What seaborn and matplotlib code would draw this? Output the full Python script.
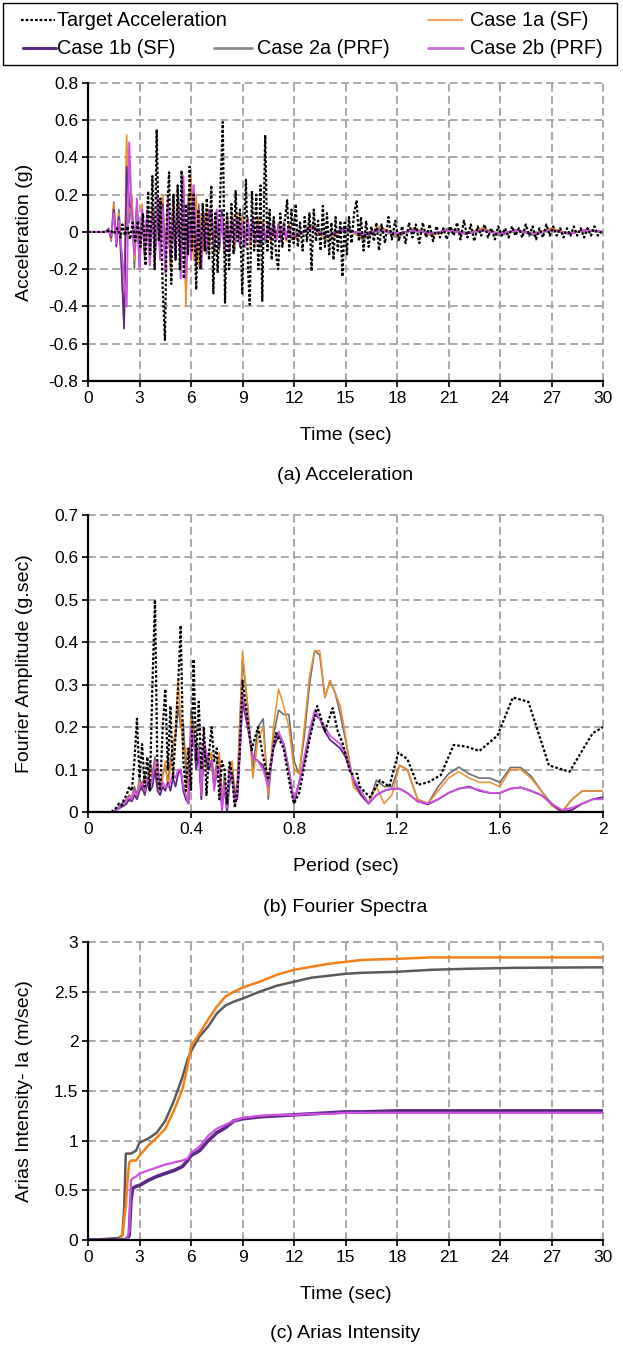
import numpy as np
import pandas as pd
import matplotlib
matplotlib.use("Agg")
import matplotlib.pyplot as plt
import seaborn as sns
from matplotlib.lines import Line2D
from matplotlib.patches import Rectangle
from matplotlib.ticker import FuncFormatter, MultipleLocator

# ---------------- DATA ----------------
series_names = ["Target Acceleration", "Case 1a (SF)", "Case 1b (SF)", "Case 2a (PRF)", "Case 2b (PRF)"]

# (a) Acceleration - target record (time s, acc g)
target_points = [
    (0, 0), (0.5, 0), (1.0, 0), (1.3, 0.01), (1.5, -0.01), (1.7, 0.02), (1.9, -0.03), (2.0, 0.04),
    (2.15, -0.02), (2.3, 0.03), (2.45, -0.04), (2.6, 0.05), (2.75, -0.05), (2.9, 0.06), (3.05, -0.08),
    (3.2, 0.1), (3.35, -0.18), (3.5, 0.22), (3.62, -0.12), (3.75, 0.3), (3.88, -0.2), (4.0, 0.55),
    (4.12, -0.05), (4.22, 0.18), (4.35, -0.3), (4.48, -0.58), (4.6, 0.1), (4.72, 0.32), (4.85, -0.28),
    (4.98, 0.2), (5.1, -0.15), (5.22, 0.25), (5.35, -0.2), (5.45, 0.33), (5.58, -0.25), (5.7, 0.15),
    (5.82, -0.12), (5.92, 0.35), (6.05, -0.1), (6.15, 0.2), (6.3, -0.31), (6.42, 0.12), (6.55, -0.2),
    (6.68, 0.15), (6.8, -0.1), (6.92, 0.18), (7.05, -0.15), (7.18, 0.25), (7.3, -0.33), (7.42, 0.1),
    (7.55, -0.22), (7.7, 0.2), (7.85, 0.59), (7.98, -0.38), (8.1, 0.1), (8.22, -0.2), (8.35, 0.15),
    (8.48, -0.12), (8.6, 0.22), (8.72, -0.05), (8.85, 0.12), (8.98, -0.33), (9.1, 0.05), (9.2, 0.28),
    (9.32, -0.2), (9.42, -0.39), (9.55, 0.22), (9.68, -0.1), (9.8, 0.2), (9.92, -0.2), (10.05, 0.25),
    (10.15, -0.37), (10.32, 0.52), (10.45, -0.1), (10.58, 0.12), (10.7, -0.15), (10.82, 0.08),
    (10.95, -0.12), (11.08, -0.2), (11.2, 0.1), (11.32, -0.08), (11.45, 0.05), (11.6, 0.17),
    (11.72, -0.1), (11.85, 0.12), (11.98, -0.06), (12.1, 0.15), (12.22, -0.08), (12.35, 0.05),
    (12.5, -0.1), (12.62, 0.08), (12.75, -0.05), (12.9, 0.1), (13.02, -0.21), (13.15, 0.12),
    (13.28, -0.05), (13.4, 0.06), (13.55, -0.1), (13.68, 0.14), (13.8, -0.08), (13.92, 0.1),
    (14.05, -0.12), (14.18, 0.05), (14.3, -0.15), (14.42, 0.08), (14.55, -0.1), (14.7, 0.06),
    (14.82, -0.24), (14.95, 0.05), (15.08, -0.12), (15.2, 0.08), (15.35, -0.06), (15.5, 0.1),
    (15.65, 0.17), (15.78, -0.05), (15.9, 0.08), (16.05, -0.1), (16.2, 0.06), (16.35, -0.08),
    (16.5, 0.03), (16.65, -0.05), (16.8, 0.05), (16.95, -0.1), (17.1, 0.04), (17.3, -0.06),
    (17.5, 0.08), (17.7, -0.04), (17.9, 0.06), (18.1, -0.05), (18.3, 0.03), (18.5, -0.06),
    (18.7, 0.05), (18.9, -0.03), (19.1, 0.04), (19.3, -0.06), (19.5, 0.05), (19.7, -0.03),
    (19.9, 0.04), (20.1, -0.05), (20.3, 0.03), (20.5, -0.03), (20.7, 0.02), (20.9, -0.04),
    (21.1, 0.03), (21.3, -0.02), (21.5, 0.05), (21.7, -0.04), (21.9, 0.06), (22.1, -0.03),
    (22.3, 0.04), (22.5, -0.05), (22.7, 0.03), (22.9, -0.02), (23.1, 0.04), (23.3, -0.03),
    (23.5, 0.02), (23.7, -0.04), (23.9, 0.03), (24.1, -0.02), (24.3, 0.02), (24.5, -0.03),
    (24.7, 0.03), (24.9, -0.02), (25.1, 0.02), (25.3, -0.03), (25.5, 0.04), (25.7, -0.02),
    (25.9, 0.03), (26.1, -0.04), (26.3, 0.02), (26.5, -0.03), (26.7, 0.04), (26.9, -0.02),
    (27.1, 0.03), (27.3, -0.02), (27.5, 0.02), (27.7, -0.03), (27.9, 0.02), (28.1, -0.02),
    (28.3, 0.03), (28.5, -0.02), (28.7, 0.02), (28.9, -0.03), (29.1, 0.02), (29.3, -0.02),
    (29.5, 0.03), (29.7, -0.02), (30, 0.01),
]

# (a) Acceleration - case records on a shared sampling grid
case_time = np.concatenate([[0, 0.5, 1.0],
                            np.round(1.2 + 0.15 * np.arange(72), 2),
                            np.arange(12, 31)])
case1a_acc = [
    0, 0, 0,
    0.01, -0.04, 0.15, -0.06, 0.1, -0.12, -0.5, 0.52, 0.1, 0.2,
    -0.15, 0.12, -0.2, 0.15, -0.1, 0.08, -0.15, 0.12, -0.1, 0.15,
    -0.08, 0.2, -0.15, 0.1, -0.2, 0.15, -0.1, 0.2, -0.15, 0.28,
    -0.4, 0.1, 0.3, -0.15, 0.2, -0.18, 0.1, -0.1, 0.12, -0.1,
    0.1, -0.12, 0.08, -0.06, 0.1, -0.1, 0.08, -0.05, 0.1, -0.08,
    0.1, -0.06, 0.08, -0.05, 0.06, -0.08, 0.05, -0.06, 0.08, -0.05,
    0.06, -0.05, 0.04, -0.06, 0.05, -0.04, 0.05, -0.03, 0.04, -0.05,
    0.04, -0.03,
    -0.04, 0.03, -0.05, 0.02, -0.03, 0.03, -0.02, 0.02, -0.02, 0.01,
    -0.01, 0.02, -0.01, 0.01, -0.01, 0.02, -0.01, 0.01, 0]
case1b_acc = [
    0, 0, 0,
    0.01, -0.03, 0.12, -0.08, 0.08, -0.2, -0.52, 0.35, 0.15, 0.12,
    -0.1, 0.15, -0.15, 0.1, -0.12, 0.1, -0.1, 0.08, -0.15, 0.1,
    -0.1, 0.15, -0.2, 0.12, -0.15, 0.1, -0.12, 0.15, -0.2, 0.22,
    -0.2, 0.15, -0.1, 0.22, -0.15, 0.1, -0.12, 0.08, -0.1, 0.1,
    0.08, -0.1, 0.06, -0.08, 0.12, -0.06, 0.05, -0.08, 0.06, -0.05,
    0.06, -0.08, 0.05, -0.06, 0.08, -0.05, 0.06, -0.04, 0.05, -0.06,
    0.04, -0.05, 0.03, -0.04, 0.05, -0.03, 0.04, -0.04, 0.03, -0.04,
    0.03, -0.03,
    -0.03, 0.02, -0.02, 0.02, -0.02, 0.01, -0.01, 0.01, -0.01, 0.01,
    -0.01, 0.01, -0.01, 0.01, -0.01, 0.01, -0.01, 0.01, 0]
case2a_acc = [
    0, 0, 0,
    0.02, -0.05, 0.16, -0.05, 0.12, -0.15, -0.5, 0.45, 0.05, 0.18,
    -0.2, 0.1, -0.18, 0.12, -0.15, 0.1, -0.12, 0.15, -0.08, 0.12,
    -0.12, 0.18, -0.1, 0.15, -0.18, 0.2, -0.08, 0.22, -0.12, 0.25,
    -0.3, 0.2, -0.1, 0.25, -0.2, 0.15, -0.08, 0.1, -0.12, 0.08,
    0.12, -0.08, 0.1, -0.1, 0.08, -0.12, 0.1, -0.06, 0.08, -0.1,
    0.08, -0.05, 0.1, -0.08, 0.05, -0.06, 0.08, -0.05, 0.06, -0.08,
    0.05, -0.06, 0.05, -0.04, 0.06, -0.05, 0.04, -0.05, 0.05, -0.03,
    0.04, -0.04,
    -0.04, 0.04, -0.03, 0.03, -0.04, 0.02, -0.03, 0.02, -0.02, 0.02,
    -0.01, 0.02, -0.02, 0.01, -0.02, 0.02, -0.01, 0.01, 0]
case2b_acc = [
    0, 0, 0,
    0.01, -0.02, 0.1, -0.06, 0.06, -0.1, -0.25, -0.4, 0.48, 0.1,
    -0.12, 0.18, -0.2, 0.12, -0.08, 0.12, -0.18, 0.1, -0.12, 0.2,
    -0.15, 0.12, -0.22, 0.18, -0.1, 0.12, -0.15, 0.18, -0.25, 0.3,
    -0.25, 0.12, -0.15, 0.25, -0.1, 0.12, -0.2, 0.1, -0.08, 0.12,
    0.1, -0.08, 0.12, -0.05, 0.08, -0.1, 0.06, -0.1, 0.08, -0.06,
    0.07, -0.06, 0.05, -0.08, 0.06, -0.05, 0.07, -0.06, 0.04, -0.05,
    0.04, -0.04, 0.05, -0.03, 0.04, -0.05, 0.03, -0.04, 0.04, -0.03,
    0.03, -0.02,
    -0.02, 0.02, -0.02, 0.01, -0.01, 0.01, -0.01, 0.01, -0.01, 0.01,
    -0.01, 0.01, -0.01, 0.01, -0.01, 0.01, -0.01, 0.01, 0]

# (b) Fourier spectra - short-period part on a shared grid (0.08..0.60 s)
fourier_period_low = np.round(np.arange(0.08, 0.605, 0.01), 2)
target_fourier_low = [
    0, 0, 0.005, 0.01, 0.02, 0.015, 0.03, 0.04, 0.06, 0.05,
    0.12, 0.22, 0.08, 0.16, 0.06, 0.13, 0.05, 0.3, 0.5, 0.08,
    0.05, 0.2, 0.29, 0.1, 0.25, 0.08, 0.18, 0.3, 0.44, 0.12,
    0.05, 0.15, 0.05, 0.36, 0.12, 0.26, 0.1, 0.2, 0.04, 0.14,
    0.2, 0.12, 0.15, 0.03, 0.12, 0.1, 0.02, 0.12, 0.08, 0.01,
    0.05, 0.15, 0.31]
case1a_fourier_low = [
    0, 0, 0, 0.005, 0.01, 0.015, 0.02, 0.03, 0.025, 0.04,
    0.05, 0.035, 0.07, 0.05, 0.08, 0.06, 0.1, 0.08, 0.12, 0.06,
    0.05, 0.08, 0.12, 0.06, 0.1, 0.15, 0.2, 0.31, 0.22, 0.14,
    0.15, 0.02, 0.22, 0.18, 0.1, 0.15, 0.04, 0.16, 0.1, 0.12,
    0.14, 0.08, 0.1, 0.14, 0.02, 0.08, 0.0, 0.1, 0.12, 0.05,
    0.06, 0.2, 0.38]
case1b_fourier_low = [
    0, 0, 0, 0.005, 0.008, 0.012, 0.015, 0.02, 0.03, 0.025,
    0.04, 0.03, 0.05, 0.06, 0.04, 0.07, 0.05, 0.06, 0.1, 0.05,
    0.04, 0.06, 0.05, 0.07, 0.05, 0.08, 0.06, 0.09, 0.1, 0.05,
    0.03, 0.02, 0.15, 0.18, 0.1, 0.14, 0.03, 0.15, 0.12, 0.1,
    0.12, 0.06, 0.09, 0.1, 0.01, 0.06, 0.0, 0.07, 0.09, 0.04,
    0.03, 0.15, 0.26]
case2a_fourier_low = [
    0, 0, 0.002, 0.006, 0.012, 0.02, 0.025, 0.03, 0.04, 0.035,
    0.06, 0.04, 0.08, 0.06, 0.09, 0.07, 0.12, 0.09, 0.13, 0.07,
    0.06, 0.09, 0.11, 0.07, 0.12, 0.16, 0.18, 0.25, 0.2, 0.21,
    0.1, 0.03, 0.24, 0.2, 0.12, 0.16, 0.05, 0.15, 0.12, 0.14,
    0.13, 0.07, 0.12, 0.13, 0.02, 0.09, 0.0, 0.11, 0.1, 0.04,
    0.07, 0.22, 0.36]
case2b_fourier_low = [
    0, 0, 0.002, 0.004, 0.01, 0.015, 0.02, 0.028, 0.035, 0.03,
    0.05, 0.04, 0.06, 0.07, 0.05, 0.08, 0.06, 0.08, 0.12, 0.12,
    0.05, 0.07, 0.06, 0.06, 0.07, 0.09, 0.08, 0.1, 0.1, 0.06,
    0.04, 0.02, 0.2, 0.17, 0.12, 0.15, 0.04, 0.17, 0.14, 0.12,
    0.12, 0.05, 0.1, 0.11, 0.0, 0.07, 0.01, 0.1, 0.08, 0.02,
    0.04, 0.14, 0.28]

# (b) Fourier spectra - long-period part
target_fourier_high = [
    (0.635, 0.146), (0.66, 0.2), (0.68, 0.13), (0.70, 0.08), (0.73, 0.186), (0.76, 0.15),
    (0.785, 0.06), (0.80, 0.02), (0.82, 0.045), (0.86, 0.17), (0.89, 0.25), (0.92, 0.19),
    (0.95, 0.245), (0.97, 0.19), (0.99, 0.16), (1.02, 0.09), (1.045, 0.09), (1.055, 0.06),
    (1.095, 0.035), (1.134, 0.075), (1.17, 0.06), (1.205, 0.14), (1.24, 0.125), (1.28, 0.064),
    (1.32, 0.07), (1.37, 0.087), (1.42, 0.158), (1.47, 0.154), (1.52, 0.144), (1.59, 0.18),
    (1.65, 0.27), (1.71, 0.26), (1.79, 0.11), (1.87, 0.095), (1.96, 0.186), (2.0, 0.2),
]
fourier_period_high = np.concatenate([np.round(np.arange(0.62, 1.005, 0.02), 2),
                                      np.round(np.arange(1.03, 1.245, 0.03), 2),
                                      np.round(np.arange(1.28, 2.005, 0.04), 2)])
case1a_fourier_high = [
    0.25, 0.08, 0.17, 0.2, 0.04, 0.2, 0.29, 0.25, 0.2, 0.1,
    0.09, 0.2, 0.32, 0.38, 0.38, 0.27, 0.31, 0.28, 0.25, 0.18,
    0.06, 0.04, 0.02, 0.06, 0.02, 0.04, 0.11, 0.1,
    0.03, 0.02, 0.05, 0.08, 0.095, 0.08, 0.07, 0.07, 0.06, 0.1,
    0.1, 0.08, 0.05, 0.015, 0.0, 0.03, 0.05, 0.05, 0.05]
case1b_fourier_high = [
    0.2, 0.13, 0.12, 0.11, 0.06, 0.15, 0.18, 0.16, 0.1, 0.02,
    0.07, 0.12, 0.18, 0.23, 0.22, 0.19, 0.17, 0.16, 0.15, 0.13,
    0.08, 0.04, 0.02, 0.04, 0.05, 0.055, 0.055, 0.045,
    0.025, 0.018, 0.03, 0.045, 0.055, 0.06, 0.05, 0.045, 0.045, 0.055,
    0.058, 0.05, 0.04, 0.02, 0.0, 0.005, 0.02, 0.03, 0.035]
case2a_fourier_high = [
    0.25, 0.1, 0.2, 0.22, 0.03, 0.18, 0.24, 0.23, 0.23, 0.12,
    0.09, 0.18, 0.3, 0.38, 0.37, 0.27, 0.31, 0.28, 0.23, 0.17,
    0.07, 0.04, 0.02, 0.075, 0.06, 0.06, 0.11, 0.1,
    0.03, 0.02, 0.06, 0.09, 0.106, 0.09, 0.08, 0.08, 0.07, 0.105,
    0.105, 0.085, 0.05, 0.02, 0.0, 0.03, 0.05, 0.05, 0.05]
case2b_fourier_high = [
    0.21, 0.13, 0.12, 0.1, 0.06, 0.16, 0.19, 0.16, 0.1, 0.03,
    0.07, 0.13, 0.19, 0.24, 0.22, 0.2, 0.18, 0.17, 0.16, 0.14,
    0.08, 0.05, 0.02, 0.04, 0.05, 0.055, 0.055, 0.045,
    0.025, 0.02, 0.03, 0.045, 0.055, 0.058, 0.052, 0.045, 0.045, 0.055,
    0.058, 0.05, 0.04, 0.02, 0.005, 0.01, 0.02, 0.03, 0.03]

# (c) Arias intensity (m/sec)
arias_time = [0, 1.8, 2.0, 2.1, 2.2, 2.3, 2.4, 2.5, 2.6, 2.8, 3.0, 3.5, 4.0, 4.5, 5.0, 5.5, 5.8, 6.0,
              6.5, 7.0, 7.5, 8.0, 8.5, 9.0, 10, 11, 12, 13, 14, 15, 16, 18, 20, 22, 25, 30]
case1a_arias = [0, 0, 0.05, 0.2, 0.35, 0.6, 0.78, 0.8, 0.8, 0.8, 0.85, 0.95, 1.03, 1.12, 1.3, 1.52,
                1.75, 1.95, 2.08, 2.22, 2.35, 2.45, 2.5, 2.54, 2.6, 2.67, 2.72, 2.75, 2.78, 2.8, 2.82,
                2.83, 2.845, 2.845, 2.845, 2.845]
case2a_arias = [0, 0.02, 0.05, 0.3, 0.87, 0.87, 0.87, 0.87, 0.88, 0.9, 0.98, 1.02, 1.08, 1.2, 1.4,
                1.64, 1.82, 1.9, 2.05, 2.15, 2.28, 2.36, 2.4, 2.43, 2.5, 2.56, 2.6, 2.64, 2.66, 2.68,
                2.69, 2.7, 2.72, 2.73, 2.74, 2.745]
case1b_arias = [0, 0, 0, 0, 0, 0.02, 0.05, 0.4, 0.52, 0.54, 0.55, 0.6, 0.64, 0.67, 0.7, 0.74, 0.8,
                0.85, 0.9, 1.0, 1.08, 1.13, 1.2, 1.22, 1.24, 1.25, 1.26, 1.27, 1.28, 1.29, 1.29, 1.3,
                1.3, 1.3, 1.3, 1.3]
case2b_arias = [0, 0, 0, 0, 0, 0.02, 0.1, 0.6, 0.62, 0.64, 0.67, 0.7, 0.73, 0.76, 0.78, 0.8, 0.82,
                0.88, 0.94, 1.05, 1.12, 1.16, 1.2, 1.23, 1.25, 1.26, 1.26, 1.27, 1.27, 1.28, 1.28,
                1.28, 1.28, 1.28, 1.28, 1.28]

# ---------------- STYLE ----------------
sns.set_theme(style="white")
plt.rcParams['font.family'] = ['Liberation Sans', 'DejaVu Sans']
plt.rcParams['axes.unicode_minus'] = False

C_TARGET = "black"
C_1A = "#F28E2B"
C_1B = "#5B2A86"
C_2A = "#6F6F6F"
C_2B = "#D24FE4"
C_1A_LEG = "#F5A866"
C_2B_LEG = "#CC6FDB"
GRID_C = "#A8A8A8"
DOT = (0, (1.2, 0.9))
FS_TICK = 12.5
FS_LAB = 14
FS_LEG = 14.3

W, H = 623, 1348
fig = plt.figure(figsize=(W / 100, H / 100), dpi=100)
axA = fig.add_axes([0.1413, 0.7174, 0.8266, 0.2211])
axB = fig.add_axes([0.1413, 0.3976, 0.8266, 0.2203])
axC = fig.add_axes([0.1413, 0.0801, 0.8266, 0.2211])


def g_fmt(x, pos):
    v = round(x, 6)
    if v == 0:
        return "0"
    return f"{v:g}"


def style_axis(ax, xlim, xstep, ylim, ystep, xlabel, ylabel):
    ax.set_xlim(*xlim)
    ax.set_ylim(*ylim)
    ax.xaxis.set_major_locator(MultipleLocator(xstep))
    ax.yaxis.set_major_locator(MultipleLocator(ystep))
    ax.xaxis.set_major_formatter(FuncFormatter(g_fmt))
    ax.yaxis.set_major_formatter(FuncFormatter(g_fmt))
    ax.grid(True, color=GRID_C, linestyle=(0, (4, 2.2)), linewidth=1.4)
    for gl in ax.get_xgridlines() + ax.get_ygridlines():
        gl.set_clip_on(False)
    ax.set_axisbelow(True)
    for s in ["top", "right"]:
        ax.spines[s].set_visible(False)
    for s in ["left", "bottom"]:
        ax.spines[s].set_color("black")
        ax.spines[s].set_linewidth(1.6)
        ax.spines[s].set_zorder(5)
    ax.tick_params(axis="both", which="major", direction="out", length=4, width=1.2,
                   color="black", labelsize=FS_TICK, labelcolor="black", pad=3,
                   bottom=True, left=True)
    ax.set_xlabel(xlabel, fontsize=FS_LAB, color="black")
    ax.set_ylabel(ylabel, fontsize=FS_LAB, color="black")
    ax.xaxis.set_label_coords(0.5, -0.155)
    ax.yaxis.set_label_coords(-0.107, 0.5)
    ax.set_facecolor("white")


def draw(ax, x, y, color, lw, ls="-", z=3):
    sns.lineplot(x=np.asarray(x, dtype=float), y=np.asarray(y, dtype=float), ax=ax,
                 color=color, linewidth=lw, linestyle=ls, estimator=None, sort=False,
                 zorder=z, legend=False)


# ----- (a) Acceleration -----
tt, ta = zip(*target_points)
draw(axA, case_time, case2a_acc, C_2A, 1.2, z=3)
draw(axA, case_time, case1a_acc, C_1A, 1.2, z=3)
draw(axA, case_time, case1b_acc, C_1B, 1.2, z=3)
draw(axA, case_time, case2b_acc, C_2B, 1.4, z=3)
draw(axA, tt, ta, C_TARGET, 1.6, ls=DOT, z=4)
style_axis(axA, (0, 30), 3, (-0.8, 0.8), 0.2, "Time (sec)", "Acceleration (g)")

# ----- (b) Fourier -----
tfp, tfv = zip(*target_fourier_high)
t_per = np.concatenate([[0.0], fourier_period_low, tfp])
t_amp = np.concatenate([[0.0], target_fourier_low, tfv])
c_per = np.concatenate([[0.0], fourier_period_low, fourier_period_high])
for vals_low, vals_high, col, lw in [
        (case2a_fourier_low, case2a_fourier_high, C_2A, 1.2),
        (case1a_fourier_low, case1a_fourier_high, C_1A, 1.1),
        (case1b_fourier_low, case1b_fourier_high, C_1B, 1.3),
        (case2b_fourier_low, case2b_fourier_high, C_2B, 1.3)]:
    draw(axB, c_per, np.concatenate([[0.0], vals_low, vals_high]), col, lw, z=3)
draw(axB, t_per, t_amp, C_TARGET, 1.6, ls=DOT, z=4)
style_axis(axB, (0, 2), 0.4, (0, 0.7), 0.1, "Period (sec)", "Fourier Amplitude (g.sec)")

# ----- (c) Arias -----
draw(axC, arias_time, case2a_arias, "#5A5A5A", 1.8, z=3)
draw(axC, arias_time, case1a_arias, "#F57F17", 1.8, z=3)
draw(axC, arias_time, case1b_arias, C_1B, 2.6, z=3)
draw(axC, arias_time, case2b_arias, C_2B, 1.6, z=3)
style_axis(axC, (0, 30), 3, (0, 3), 0.5, "Time (sec)", "Arias Intensity- Ia (m/sec)")

# ----- captions -----
for ypix, cap in [(476, "(a) Acceleration"), (908, "(b) Fourier Spectra"), (1334, "(c) Arias Intensity")]:
    fig.text(0.554, 1 - ypix / H, cap, ha="center", va="center", fontsize=FS_LAB, color="black")

# ----- legend (Excel-style box, entries placed like the original) -----
fig.patches.append(Rectangle((3 / W, 1 - 65 / H), 614 / W, 62 / H, transform=fig.transFigure,
                             facecolor="white", edgecolor="black", linewidth=1.0, zorder=1))
legend_entries = [
    # (label, color, linestyle, lw, handle x0, handle x1, text x, row y)
    (series_names[0], C_TARGET, DOT, 1.6, 21, 55, 57, 20),
    (series_names[1], C_1A_LEG, "-", 1.6, 428, 462, 470, 20),
    (series_names[2], C_1B, "-", 2.2, 23, 56, 57, 48),
    (series_names[3], "#8C8C8C", "-", 2.0, 214, 252, 257, 48),
    (series_names[4], C_2B_LEG, "-", 2.0, 428, 463, 470, 48),
]
for lab, col, ls, lw, x0, x1, xt, yr in legend_entries:
    fig.lines.append(Line2D([x0 / W, x1 / W], [1 - yr / H, 1 - yr / H], transform=fig.transFigure,
                            color=col, linestyle=ls, linewidth=lw, zorder=2))
    fig.text(xt / W, 1 - yr / H, lab, ha="left", va="center", fontsize=FS_LEG, color="black", zorder=3)

fig.savefig("out.png", dpi=100, facecolor="white")
